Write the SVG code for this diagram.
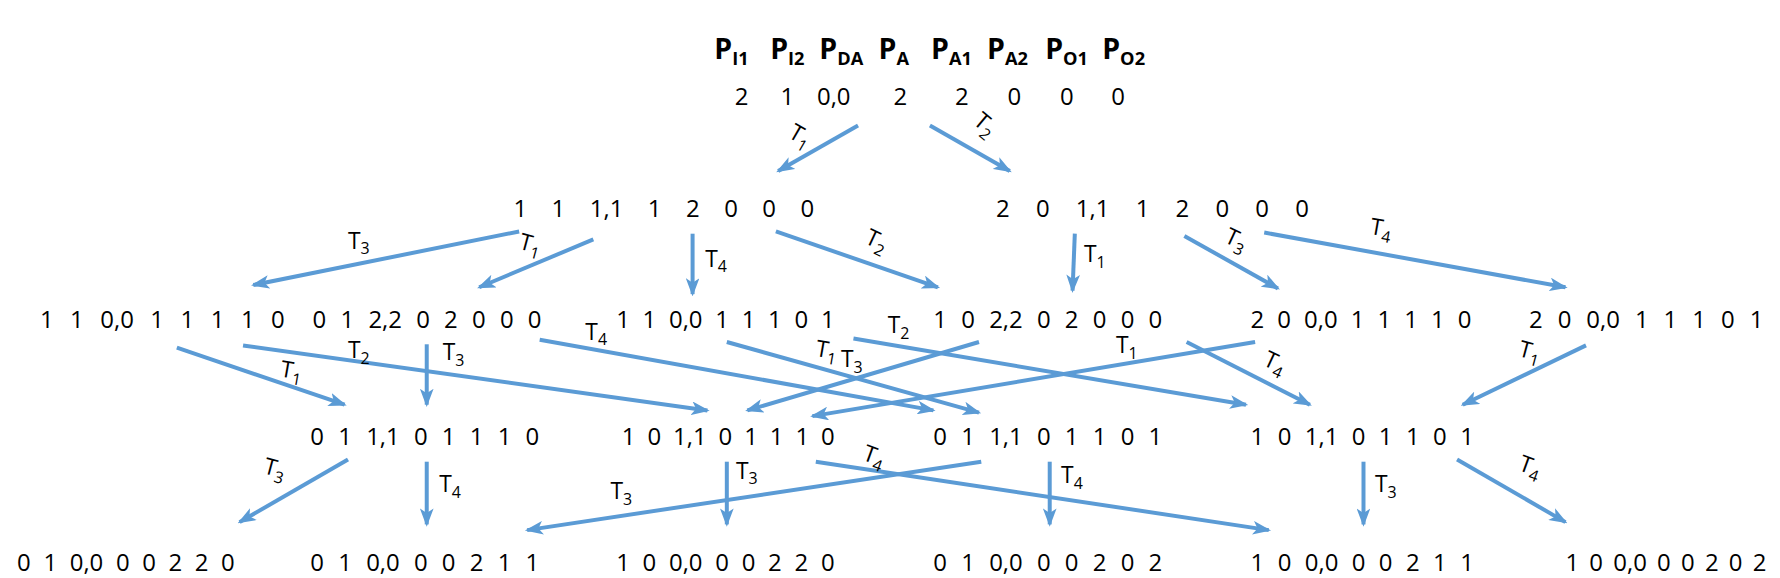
<svg xmlns="http://www.w3.org/2000/svg" width="1780" height="578" viewBox="0 0 1780 578">
<style>
.n{font-family:"Open Sans","Noto Sans",sans-serif;font-size:21px;fill:#000}
.h{font-family:"Open Sans","Noto Sans",sans-serif;font-size:25px;font-weight:bold;fill:#000}
.hs{font-size:16px}
.l{font-family:"Open Sans","Noto Sans",sans-serif;font-size:20px;fill:#000}
.ls{font-size:14px}
.e{stroke:#5b9bd5;stroke-width:3.5;fill:none;marker-end:url(#a)}
</style>
<defs>
<marker id="a" markerUnits="userSpaceOnUse" markerWidth="16" markerHeight="12" refX="14" refY="6" orient="auto">
<path d="M0,0 L16,6 L0,12 L4,6 Z" fill="#5b9bd5"/>
</marker>
</defs>
<rect width="1780" height="578" fill="#fff"/>
<g transform="scale(1.141,1.14)">
<g id="header">
<text class="h" x="626" y="52">P<tspan class="hs" dy="5">I1</tspan></text>
<text class="h" x="675" y="52">P<tspan class="hs" dy="5">I2</tspan></text>
<text class="h" x="718" y="52">P<tspan class="hs" dy="5">DA</tspan></text>
<text class="h" x="770" y="52">P<tspan class="hs" dy="5">A</tspan></text>
<text class="h" x="816" y="52">P<tspan class="hs" dy="5">A1</tspan></text>
<text class="h" x="865" y="52">P<tspan class="hs" dy="5">A2</tspan></text>
<text class="h" x="916" y="52">P<tspan class="hs" dy="5">O1</tspan></text>
<text class="h" x="966" y="52">P<tspan class="hs" dy="5">O2</tspan></text>
</g>
<g id="s0"><text class="n" y="92"><tspan x="644">2</tspan><tspan x="684">1</tspan><tspan x="716">0,0</tspan><tspan x="783">2</tspan><tspan x="837">2</tspan><tspan x="883">0</tspan><tspan x="929">0</tspan><tspan x="974">0</tspan></text></g>
<g id="s1"><text class="n" x="450" y="190" style="word-spacing:16px">1 1 1,1 1 2 0 0 0</text></g>
<g id="s2"><text class="n" x="873" y="190" style="word-spacing:17.5px">2 0 1,1 1 2 0 0 0</text></g>
<g id="s3"><text class="n" x="35" y="288" style="word-spacing:9px">1 1 0,0 1 1 1 1 0</text></g>
<g id="s4"><text class="n" x="274" y="288" style="word-spacing:7px">0 1 2,2 0 2 0 0 0</text></g>
<g id="s5"><text class="n" x="540" y="288" style="word-spacing:5.7px">1 1 0,0 1 1 1 0 1</text></g>
<g id="s6"><text class="n" x="818" y="288" style="word-spacing:7px">1 0 2,2 0 2 0 0 0</text></g>
<g id="s7"><text class="n" x="1096" y="288" style="word-spacing:6px">2 0 0,0 1 1 1 1 0</text></g>
<g id="s8"><text class="n" x="1340" y="288" style="word-spacing:7.7px">2 0 0,0 1 1 1 0 1</text></g>
<g id="s9"><text class="n" x="272" y="390" style="word-spacing:7px">0 1 1,1 0 1 1 1 0</text></g>
<g id="s10"><text class="n" x="545" y="390" style="word-spacing:5px">1 0 1,1 0 1 1 1 0</text></g>
<g id="s11"><text class="n" x="818" y="390" style="word-spacing:7px">0 1 1,1 0 1 1 0 1</text></g>
<g id="s12"><text class="n" x="1096" y="390" style="word-spacing:6.3px">1 0 1,1 0 1 1 0 1</text></g>
<g id="s13"><text class="n" x="15" y="501" style="word-spacing:5.6px">0 1 0,0 0 0 2 2 0</text></g>
<g id="s14"><text class="n" x="272" y="501" style="word-spacing:7px">0 1 0,0 0 0 2 1 1</text></g>
<g id="s15"><text class="n" x="540" y="501" style="word-spacing:5.7px">1 0 0,0 0 0 2 2 0</text></g>
<g id="s16"><text class="n" x="818" y="501" style="word-spacing:7px">0 1 0,0 0 0 2 0 2</text></g>
<g id="s17"><text class="n" x="1096" y="501" style="word-spacing:6.3px">1 0 0,0 0 0 2 1 1</text></g>
<g id="s18"><text class="n" x="1372" y="501" style="word-spacing:3.5px">1 0 0,0 0 0 2 0 2</text></g>
<g id="connectors">
<path class="e" d="M752,110 L682,150"/>
<path class="e" d="M815,110 L885,150"/>
<path class="e" d="M455,203 L222,250"/>
<path class="e" d="M520,210 L420,252"/>
<path class="e" d="M607,205 L607,258"/>
<path class="e" d="M680,203 L822,252"/>
<path class="e" d="M942,205 L940,255"/>
<path class="e" d="M1038,207 L1120,253"/>
<path class="e" d="M1108,204 L1372,252"/>
<path class="e" d="M155,305 L302,355"/>
<path class="e" d="M213,303 L620,360"/>
<path class="e" d="M374,302 L374,355"/>
<path class="e" d="M473,298 L818,360"/>
<path class="e" d="M637,300 L858,362"/>
<path class="e" d="M748,297 L1092,355"/>
<path class="e" d="M858,300 L655,360"/>
<path class="e" d="M1100,300 L712,365"/>
<path class="e" d="M1040,300 L1148,355"/>
<path class="e" d="M1390,303 L1282,355"/>
<path class="e" d="M305,403 L210,458"/>
<path class="e" d="M374,405 L374,460"/>
<path class="e" d="M860,405 L462,465"/>
<path class="e" d="M637,405 L637,460"/>
<path class="e" d="M715,405 L1112,465"/>
<path class="e" d="M920,405 L920,460"/>
<path class="e" d="M1195,405 L1195,460"/>
<path class="e" d="M1277,403 L1372,458"/>
</g>
<g id="labels">
<text class="l" transform="translate(690,120) rotate(30)">T<tspan class="ls" dy="5">1</tspan></text>
<text class="l" transform="translate(852,108) rotate(40)">T<tspan class="ls" dy="5">2</tspan></text>
<text class="l" x="305" y="218">T<tspan class="ls" dy="5">3</tspan></text>
<text class="l" transform="translate(454,218) rotate(15)">T<tspan class="ls" dy="5">1</tspan></text>
<text class="l" x="618" y="234">T<tspan class="ls" dy="5">4</tspan></text>
<text class="l" transform="translate(757,213) rotate(25)">T<tspan class="ls" dy="5">2</tspan></text>
<text class="l" x="950" y="230">T<tspan class="ls" dy="5">1</tspan></text>
<text class="l" transform="translate(1072,212) rotate(25)">T<tspan class="ls" dy="5">3</tspan></text>
<text class="l" transform="translate(1200,205) rotate(10)">T<tspan class="ls" dy="5">4</tspan></text>
<text class="l" transform="translate(245,330) rotate(10)">T<tspan class="ls" dy="5">1</tspan></text>
<text class="l" x="305" y="314">T<tspan class="ls" dy="5">2</tspan></text>
<text class="l" x="388" y="316">T<tspan class="ls" dy="5">3</tspan></text>
<text class="l" x="513" y="298">T<tspan class="ls" dy="5">4</tspan></text>
<text class="l" transform="translate(714,312) rotate(10)">T<tspan class="ls" dy="5">1</tspan></text>
<text class="l" x="778" y="292">T<tspan class="ls" dy="5">2</tspan></text>
<text class="l" x="737" y="322">T<tspan class="ls" dy="5">3</tspan></text>
<text class="l" x="978" y="310">T<tspan class="ls" dy="5">1</tspan></text>
<text class="l" transform="translate(1106,320) rotate(25)">T<tspan class="ls" dy="5">4</tspan></text>
<text class="l" transform="translate(1330,312) rotate(15)">T<tspan class="ls" dy="5">1</tspan></text>
<text class="l" transform="translate(230,415) rotate(15)">T<tspan class="ls" dy="5">3</tspan></text>
<text class="l" x="385" y="432">T<tspan class="ls" dy="5">4</tspan></text>
<text class="l" x="535" y="438">T<tspan class="ls" dy="5">3</tspan></text>
<text class="l" x="645" y="420">T<tspan class="ls" dy="5">3</tspan></text>
<text class="l" transform="translate(755,403) rotate(20)">T<tspan class="ls" dy="5">4</tspan></text>
<text class="l" x="930" y="424">T<tspan class="ls" dy="5">4</tspan></text>
<text class="l" x="1205" y="432">T<tspan class="ls" dy="5">3</tspan></text>
<text class="l" transform="translate(1330,412) rotate(20)">T<tspan class="ls" dy="5">4</tspan></text>
</g>
</g>
</svg>
